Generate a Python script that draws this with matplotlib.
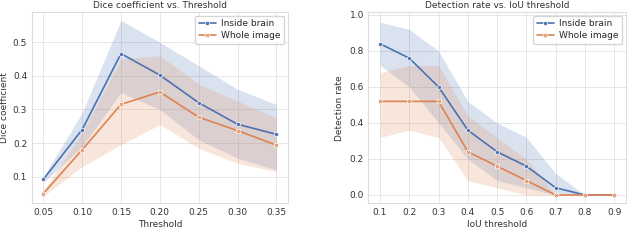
import matplotlib
matplotlib.use("Agg")
import matplotlib.pyplot as plt
import seaborn as sns

sns.set_theme(style="whitegrid")
plt.rcParams['font.family'] = ['DejaVu Sans']

# left panel: dice vs threshold
thresholds = [0.05, 0.10, 0.15, 0.20, 0.25, 0.30, 0.35]
dice_brain = [0.092, 0.24, 0.466, 0.402, 0.32, 0.256, 0.226]
dice_brain_lo = [0.082, 0.19, 0.35, 0.30, 0.21, 0.155, 0.12]
dice_brain_hi = [0.10, 0.29, 0.565, 0.50, 0.43, 0.36, 0.315]
dice_whole = [0.05, 0.18, 0.315, 0.352, 0.277, 0.237, 0.194]
dice_whole_lo = [0.042, 0.13, 0.195, 0.255, 0.185, 0.14, 0.115]
dice_whole_hi = [0.058, 0.23, 0.45, 0.46, 0.375, 0.325, 0.275]

# right panel: detection rate vs IoU threshold
iou = [0.1, 0.2, 0.3, 0.4, 0.5, 0.6, 0.7, 0.8, 0.9]
det_brain = [0.84, 0.76, 0.60, 0.36, 0.24, 0.16, 0.04, 0.0, 0.0]
det_brain_lo = [0.72, 0.60, 0.40, 0.20, 0.08, 0.04, 0.0, 0.0, 0.0]
det_brain_hi = [0.96, 0.92, 0.80, 0.52, 0.40, 0.32, 0.12, 0.0, 0.0]
det_whole = [0.52, 0.52, 0.52, 0.24, 0.16, 0.08, 0.0, 0.0, 0.0]
det_whole_lo = [0.32, 0.36, 0.32, 0.08, 0.04, 0.0, 0.0, 0.0, 0.0]
det_whole_hi = [0.68, 0.72, 0.72, 0.44, 0.32, 0.20, 0.0, 0.0, 0.0]

blue = "#4C72B0"
orange = "#DD8452"
fs = 6.5

fig = plt.figure(figsize=(6.4, 2.4), dpi=100)
ax1 = fig.add_axes([0.0495, 0.153, 0.4005, 0.796])
ax2 = fig.add_axes([0.5755, 0.153, 0.4025, 0.796])


def draw(ax, x, y1, lo1, hi1, y2, lo2, hi2):
    ax.fill_between(x, lo1, hi1, color=blue, alpha=0.2, linewidth=0)
    ax.fill_between(x, lo2, hi2, color=orange, alpha=0.2, linewidth=0)
    ax.plot(x, y1, color=blue, marker='o', markersize=3, markeredgecolor='white',
            markeredgewidth=0.5, linewidth=1.2, label="Inside brain")
    ax.plot(x, y2, color=orange, marker='X', markersize=3.5, markeredgecolor='white',
            markeredgewidth=0.5, linewidth=1.2, label="Whole image")
    ax.tick_params(labelsize=fs, pad=3.2, length=0, colors="#333333")
    for s in ax.spines.values():
        s.set_linewidth(0.8)
        s.set_color("#dddddd")
    ax.grid(linewidth=0.7, color="#e6e6e6")
    ax.legend(fontsize=fs, loc="upper right", frameon=True, handlelength=1.9,
              borderpad=0.4, labelspacing=0.3, handletextpad=0.6,
              borderaxespad=0.4)


draw(ax1, thresholds, dice_brain, dice_brain_lo, dice_brain_hi,
     dice_whole, dice_whole_lo, dice_whole_hi)
ax1.set_xticks(thresholds)
ax1.set_xticklabels([f"{t:.2f}" for t in thresholds])
ax1.set_yticks([0.1, 0.2, 0.3, 0.4, 0.5])
ax1.set_ylim(0.021, 0.589)
ax1.set_xlabel("Threshold", fontsize=fs, labelpad=2, color="#333333")
ax1.set_ylabel("Dice coefficient", fontsize=fs, labelpad=3, color="#333333")
ax1.set_title("Dice coefficient vs. Threshold", fontsize=fs, pad=3, color="#333333")

draw(ax2, iou, det_brain, det_brain_lo, det_brain_hi,
     det_whole, det_whole_lo, det_whole_hi)
ax2.set_xticks(iou)
ax2.set_yticks([0.0, 0.2, 0.4, 0.6, 0.8, 1.0])
ax2.set_ylim(-0.046, 1.015)
ax2.set_xlabel("IoU threshold", fontsize=fs, labelpad=2, color="#333333")
ax2.set_ylabel("Detection rate", fontsize=fs, labelpad=4, color="#333333")
ax2.set_title("Detection rate vs. IoU threshold", fontsize=fs, pad=3, color="#333333")

fig.savefig("out.png", dpi=100)
